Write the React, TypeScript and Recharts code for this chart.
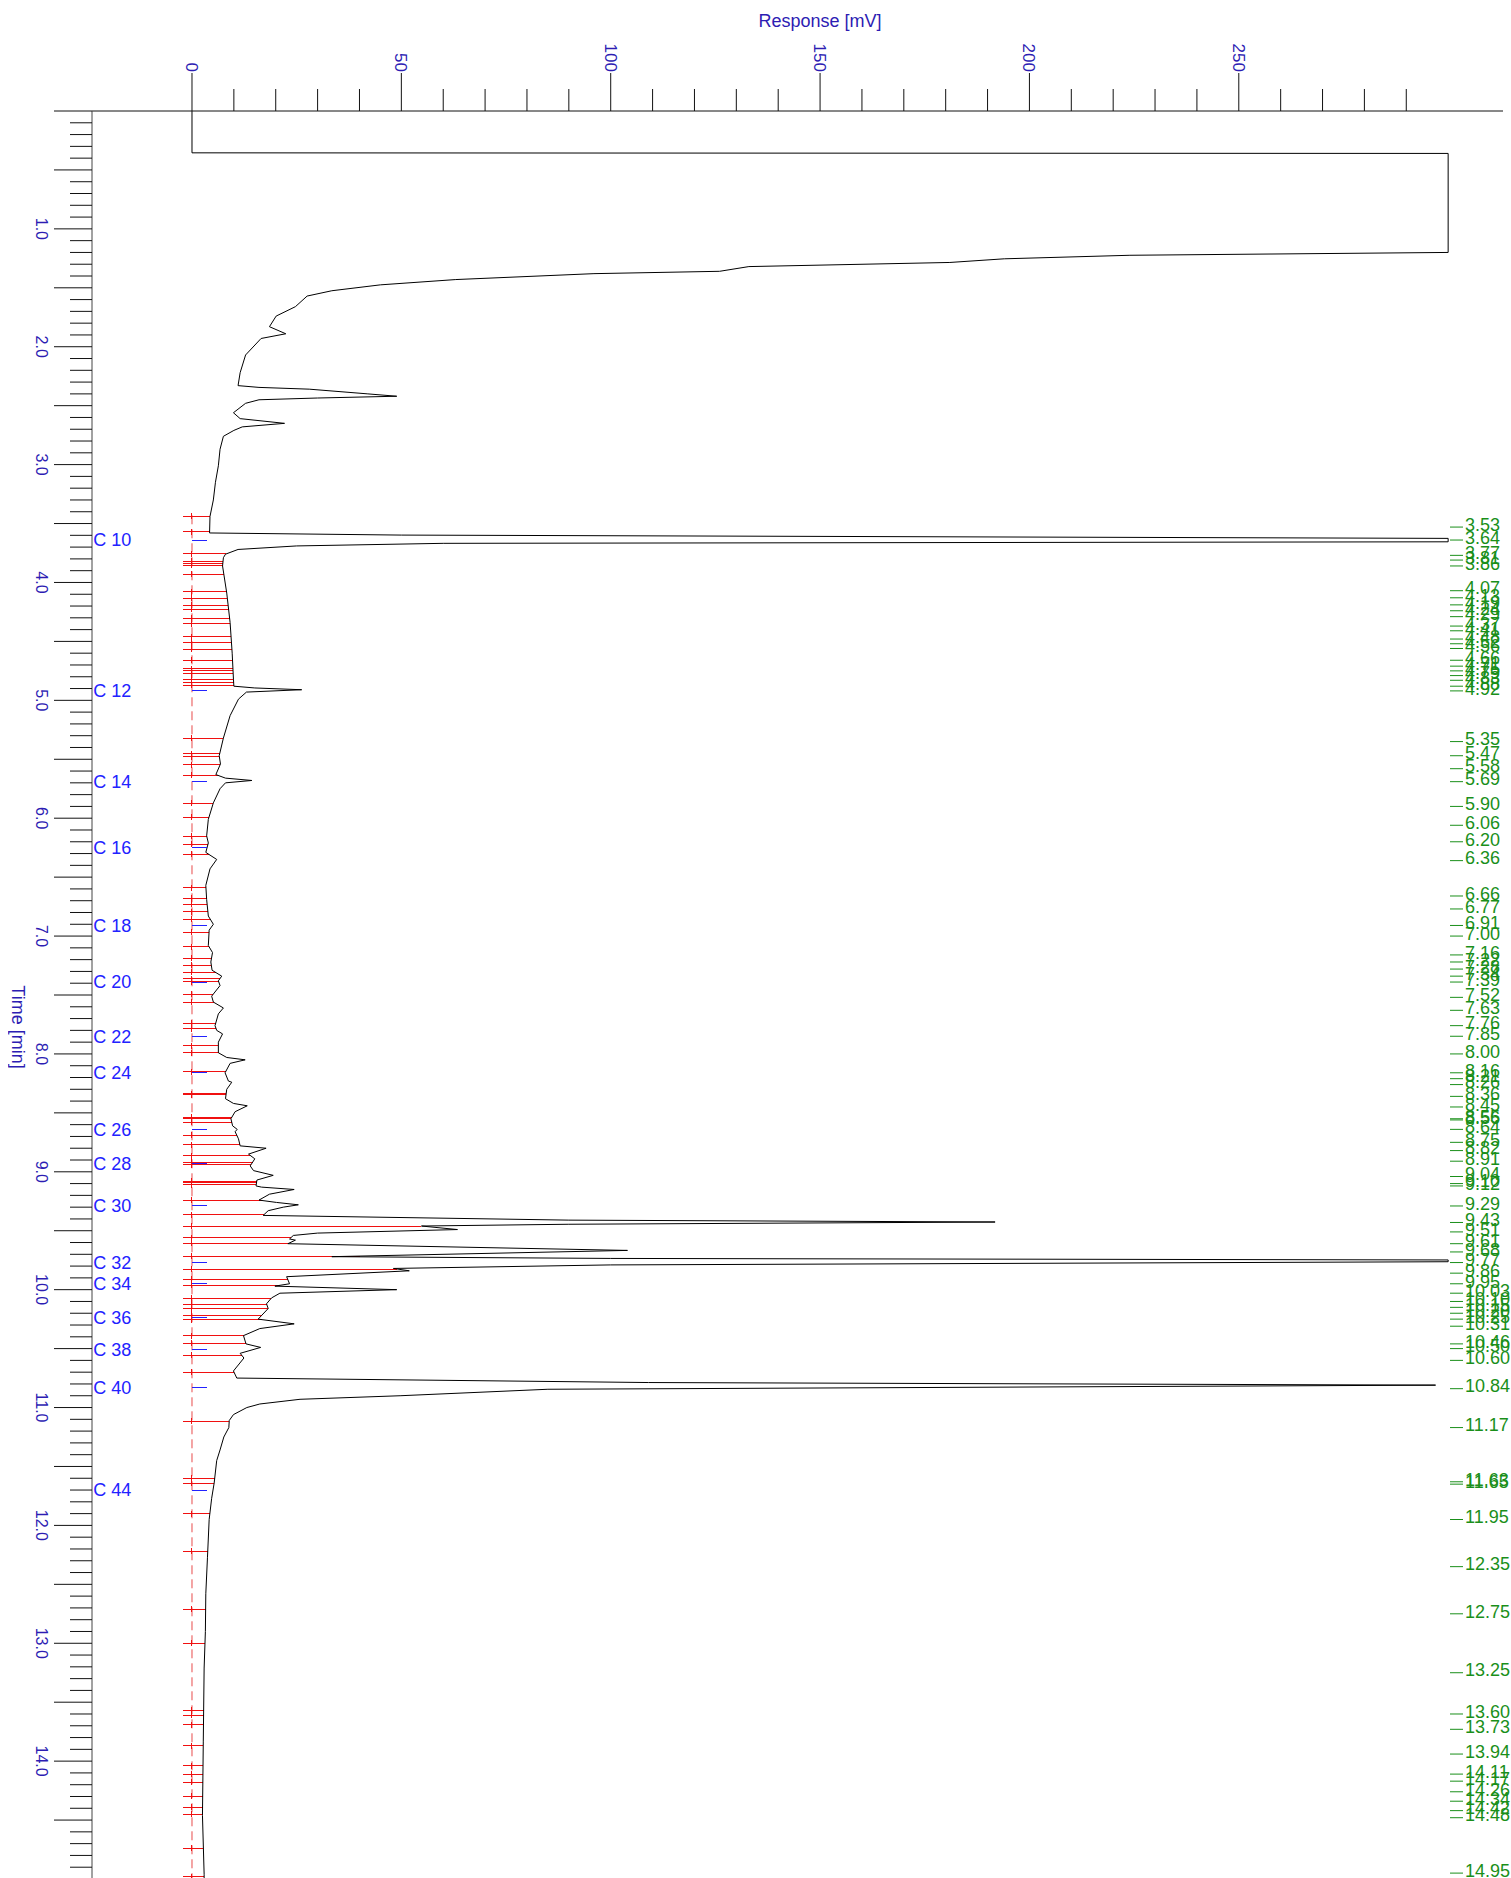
import React from "react";
import {
  ComposedChart,
  Line,
  XAxis,
  YAxis,
  ReferenceLine,
  ReferenceDot,
} from "recharts";

// detector trace, time [min] / response [mV]
const TRACE_T = [
  0, 0.355, 0.36, 1.2, 1.224, 1.254, 1.285, 1.32, 1.36, 1.38,
  1.43, 1.475, 1.525, 1.57, 1.66, 1.74, 1.83, 1.89, 1.93, 2.07,
  2.22, 2.33, 2.345, 2.36, 2.4, 2.42, 2.435, 2.45, 2.48, 2.56,
  2.61, 2.65, 2.68, 2.71, 2.76, 2.87, 3.01, 3.15, 3.3, 3.44,
  3.58, 3.598, 3.626, 3.655, 3.668, 3.69, 3.72, 3.76, 3.79, 3.86,
  4.09, 4.34, 4.6, 4.82, 4.88, 4.895, 4.91, 4.93, 4.99, 5.13,
  5.32, 5.47, 5.54, 5.63, 5.66, 5.68, 5.7, 5.75, 5.87, 6.01,
  6.15, 6.21, 6.29, 6.35, 6.43, 6.57, 6.69, 6.83, 6.9, 6.95,
  7.08, 7.14, 7.22, 7.29, 7.34, 7.38, 7.42, 7.51, 7.56, 7.61,
  7.66, 7.76, 7.8, 7.83, 7.9, 7.99, 8.03, 8.05, 8.08, 8.16,
  8.23, 8.24, 8.3, 8.38, 8.42, 8.44, 8.49, 8.55, 8.61, 8.64,
  8.66, 8.72, 8.78, 8.8, 8.85, 8.89, 8.95, 8.99, 9.03, 9.07,
  9.12, 9.13, 9.15, 9.19, 9.24, 9.26, 9.28, 9.3, 9.33, 9.37,
  9.41, 9.426, 9.445, 9.46, 9.49, 9.52, 9.54, 9.57, 9.58, 9.61,
  9.667, 9.72, 9.735, 9.748, 9.763, 9.79, 9.82, 9.84, 9.89, 9.95,
  9.97, 10.0, 10.03, 10.07, 10.12, 10.16, 10.22, 10.25, 10.29, 10.33,
  10.39, 10.46, 10.49, 10.54, 10.58, 10.69, 10.75, 10.788, 10.81, 10.845,
  10.9, 10.93, 10.97, 11.0, 11.06, 11.11, 11.17, 11.25, 11.36, 11.45,
  11.64, 11.77, 11.95, 12.27, 12.58, 12.9, 13.21, 13.83, 14.46, 14.96,
  15,
];
const TRACE_MV = [
  0, 0, 300, 300, 224, 194, 181, 133, 126, 96,
  63, 45, 33.4, 27.5, 24.7, 20.1, 18.5, 22.4, 16.5, 12.8,
  11.5, 11.0, 16, 28, 42, 48.9, 30, 16, 12.8, 9.9,
  11.5, 22.1, 12, 10, 7.5, 6.7, 6.3, 5.6, 5.1, 4.3,
  4.2, 50, 300, 300, 60, 25, 11, 8, 7.5, 7.3,
  8.3, 9.1, 9.6, 9.9, 10.0, 15, 26.2, 13, 11.1, 9.1,
  7.5, 6.5, 6.8, 5.7, 8, 14.3, 8, 6.7, 5.1, 3.9,
  3.5, 3.9, 3.3, 5.9, 4.3, 3.3, 3.5, 3.9, 5.1, 4.1,
  3.9, 4.9, 4.5, 4.8, 7.1, 6.3, 6.7, 4.7, 5.1, 7.5,
  6.3, 5.5, 5.9, 7.3, 6.3, 6.3, 8.3, 12.7, 9.1, 7.9,
  8.7, 9.5, 8.3, 8.0, 9.9, 13.2, 10.3, 9.3, 9.7, 10.8,
  10.3, 11.1, 11.5, 17.7, 13.5, 15.0, 13.9, 14.7, 19.4, 15.5,
  15.3, 16.6, 24.4, 18.5, 16.0, 20.2, 25.4, 21.8, 18.2, 17.0,
  90, 191.8, 90, 54.8, 63.4, 30, 24.2, 23.3, 24.7, 22.9,
  104, 33.4, 100, 300, 300, 100, 48.1, 51.9, 22.6, 23.3,
  19.8, 48.9, 21.0, 19.0, 17.8, 18.2, 16.6, 15.8, 24.4, 16.2,
  12.3, 12.9, 16.4, 11.5, 12.4, 9.9, 10.7, 109, 297, 85,
  49.7, 25.8, 16.2, 13.1, 9.9, 8.9, 8.8, 7.6, 6.7, 5.9,
  5.3, 4.7, 4.1, 3.7, 3.3, 3.2, 2.9, 2.7, 2.5, 2.9,
  2.9,
];

// integration boundaries (red)
const BOUNDARY_T = [
  3.438, 3.571, 3.757, 3.819, 3.842, 3.856, 3.932, 4.079, 4.136, 4.192,
  4.229, 4.305, 4.35, 4.46, 4.511, 4.568, 4.658, 4.731, 4.751, 4.771,
  4.822, 4.85, 4.873, 5.322, 5.452, 5.48, 5.548, 5.636, 5.873, 5.994,
  6.155, 6.22, 6.305, 6.588, 6.681, 6.729, 6.794, 6.856, 6.969, 7.09,
  7.189, 7.246, 7.308, 7.364, 7.387, 7.492, 7.562, 7.74, 7.788, 7.929,
  7.992, 8.15, 8.339, 8.347, 8.537, 8.551, 8.579, 8.692, 8.771, 8.862,
  8.918, 8.941, 9.082, 9.093, 9.11, 9.243, 9.364, 9.46, 9.559, 9.605,
  9.715, 9.825, 9.913, 9.963, 10.071, 10.124, 10.161, 10.218, 10.254, 10.393,
  10.455, 10.557, 10.701, 11.116, 11.602, 11.642, 11.9, 12.22, 12.71, 13.0,
  13.57, 13.61, 13.69, 13.87, 14.04, 14.11, 14.18, 14.3, 14.39, 14.45,
  14.74, 14.98,
];

// retention times (green)
const PEAK_RT = [
  3.53, 3.64, 3.77, 3.81, 3.86, 4.07, 4.13, 4.19, 4.24, 4.29,
  4.37, 4.41, 4.48, 4.52, 4.56, 4.66, 4.71, 4.75, 4.79, 4.83,
  4.88, 4.92, 5.35, 5.47, 5.58, 5.69, 5.9, 6.06, 6.2, 6.36,
  6.66, 6.77, 6.91, 7.0, 7.16, 7.22, 7.28, 7.34, 7.39, 7.52,
  7.63, 7.76, 7.85, 8.0, 8.16, 8.21, 8.26, 8.36, 8.45, 8.55,
  8.56, 8.64, 8.75, 8.82, 8.91, 9.04, 9.1, 9.12, 9.29, 9.43,
  9.51, 9.61, 9.68, 9.77, 9.86, 9.95, 10.03, 10.1, 10.15, 10.2,
  10.25, 10.31, 10.46, 10.5, 10.6, 10.84, 11.17, 11.63, 11.65, 11.95,
  12.35, 12.75, 13.25, 13.6, 13.73, 13.94, 14.11, 14.17, 14.26, 14.34,
  14.42, 14.48, 14.95,
];

// n-alkane markers
const CARBON_NAMES = [
  "C 10", "C 12", "C 14", "C 16", "C 18", "C 20", "C 22", "C 24", "C 26",
  "C 28", "C 30", "C 32", "C 34", "C 36", "C 38", "C 40", "C 44",
];
const CARBON_T = [
  3.64, 4.92, 5.69, 6.25, 6.91, 7.39, 7.85, 8.16, 8.64,
  8.93, 9.29, 9.77, 9.95, 10.24, 10.51, 10.83, 11.7,
];

const RESP_TICKS = Array.from({ length: 30 }, (_, i) => i * 10);
const TIME_TICKS = Array.from({ length: 151 }, (_, i) => i / 10);

const RESP_DOMAIN = [-23.88, 313.1];
const AXIS_INK = "#2d1db3";
const C_BLUE = "#2222ff";
const GREEN = "#1a8f1a";
const RED = "#f01010";

const data = TRACE_T.map((t, i) => ({ t, mv: TRACE_MV[i] }));

// where a boundary marker meets the signal
function signalAt(t: number) {
  for (let i = 1; i < TRACE_T.length; i++) {
    if (TRACE_T[i] >= t) {
      const f = (t - TRACE_T[i - 1]) / (TRACE_T[i] - TRACE_T[i - 1]);
      return TRACE_MV[i - 1] + f * (TRACE_MV[i] - TRACE_MV[i - 1]);
    }
  }
  return TRACE_MV[TRACE_MV.length - 1];
}

const RespTick = (props: any) => {
  const { x, y, payload } = props;
  const major = payload.value % 50 === 0;
  const len = major ? 38 : 22;
  const ly = y - len - 1;
  return (
    <g>
      <line x1={x} y1={y} x2={x} y2={y - len} stroke="#111" />
      {major && (
        <text
          x={x}
          y={ly}
          transform={`rotate(90 ${x} ${ly})`}
          textAnchor="end"
          dy="0.35em"
          fontSize={17}
          fill={AXIS_INK}
        >
          {payload.value}
        </text>
      )}
    </g>
  );
};

const TimeTick = (props: any) => {
  const { x, y, payload } = props;
  const tenth = Math.round(payload.value * 10);
  const major = tenth % 5 === 0;
  const labelled = tenth % 10 === 0 && tenth > 0 && tenth < 150;
  const len = major ? 38 : 22;
  const lx = x - 50;
  return (
    <g>
      <line x1={x - len} y1={y} x2={x} y2={y} stroke="#111" />
      {labelled && (
        <text
          x={lx}
          y={y}
          transform={`rotate(90 ${lx} ${y})`}
          textAnchor="middle"
          dy="0.35em"
          fontSize={16}
          fill={AXIS_INK}
        >
          {(tenth / 10).toFixed(1)}
        </text>
      )}
    </g>
  );
};

// retention-time labels hang off a hidden right axis
const PeakTick = (props: any) => {
  const { x, y, payload } = props;
  return (
    <g>
      <line x1={x - 53} x2={x - 40} y1={y} y2={y} stroke={GREEN} />
      <text x={x - 38} y={y - 2} dy="0.32em" fontSize={18} fill={GREEN}>
        {payload.value.toFixed(2)}
      </text>
    </g>
  );
};

const RespTitle = (props: any) => {
  const vb = props.viewBox;
  const cx = vb.x + ((150 - RESP_DOMAIN[0]) / (RESP_DOMAIN[1] - RESP_DOMAIN[0])) * vb.width;
  return (
    <text x={cx} y={vb.y + 15.5} textAnchor="middle" fontSize={18} fill={AXIS_INK}>
      Response [mV]
    </text>
  );
};

const TimeTitle = (props: any) => {
  const vb = props.viewBox;
  const x = vb.x + 10.5;
  const y = vb.y + vb.height / 2 + 32;
  return (
    <text
      x={x}
      y={y}
      transform={`rotate(90 ${x} ${y})`}
      textAnchor="middle"
      dy="0.35em"
      fontSize={18}
      fill={AXIS_INK}
    >
      Time [min]
    </text>
  );
};

export default function App() {
  return (
    <div
      style={{
        position: "absolute",
        left: 8,
        top: 8,
        width: 1503,
        height: 1870,
        overflow: "hidden",
        fontFamily: "'Liberation Sans', Arial, sans-serif",
        background: "#fff",
      }}
    >
      <style>{`.recharts-surface { overflow: visible; }`}</style>
      <ComposedChart
        layout="vertical"
        width={1503}
        height={1871}
        data={data}
        margin={{ top: 3, right: 0, bottom: 0, left: 0 }}
      >
        <XAxis
          type="number"
          orientation="top"
          domain={RESP_DOMAIN}
          allowDataOverflow
          ticks={RESP_TICKS}
          interval={0}
          height={100}
          tickSize={0}
          tickMargin={0}
          tickLine={false}
          axisLine={{ stroke: "#111" }}
          tick={<RespTick />}
          label={{ content: <RespTitle /> }}
        />
        <YAxis
          type="number"
          dataKey="t"
          domain={[0, 15]}
          allowDataOverflow
          ticks={TIME_TICKS}
          interval={0}
          width={84}
          tickSize={0}
          tickMargin={0}
          tickLine={false}
          axisLine={{ stroke: "#444" }}
          tick={<TimeTick />}
          label={{ content: <TimeTitle /> }}
        />
        <YAxis
          yAxisId="rt"
          orientation="right"
          type="number"
          dataKey="t"
          domain={[0, 15]}
          allowDataOverflow
          ticks={PEAK_RT}
          interval={0}
          width={8}
          tickSize={0}
          tickMargin={0}
          tickLine={false}
          axisLine={false}
          tick={<PeakTick />}
        />

        <ReferenceLine
          segment={[
            { x: 0, y: 3.43 },
            { x: 0, y: 15 },
          ]}
          stroke="#e84a4a"
          strokeDasharray="9 5"
          ifOverflow="visible"
        />
        {BOUNDARY_T.map((t) => (
          <ReferenceLine
            key={"b" + t}
            segment={[
              { x: -2.2, y: t },
              { x: signalAt(t), y: t },
            ]}
            stroke={RED}
            strokeWidth={1}
            shapeRendering="crispEdges"
            ifOverflow="visible"
          />
        ))}
        {BOUNDARY_T.map((t) => (
          <ReferenceDot
            key={"p" + t}
            x={0}
            y={t}
            r={0}
            ifOverflow="visible"
            shape={(p: any) => (
              <line
                x1={p.cx}
                x2={p.cx}
                y1={p.cy - 3}
                y2={p.cy + 3}
                stroke={RED}
                shapeRendering="crispEdges"
              />
            )}
          />
        ))}
        {CARBON_T.map((t, i) => (
          <ReferenceDot
            key={"cl" + i}
            x={-23.6}
            y={t}
            r={0}
            ifOverflow="visible"
            shape={(p: any) => (
              <text x={p.cx} y={p.cy} dy="0.35em" fontSize={18} fill={C_BLUE}>
                {CARBON_NAMES[i]}
              </text>
            )}
          />
        ))}
        {CARBON_T.map((t, i) => (
          <ReferenceDot
            key={"ct" + i}
            x={0}
            y={t}
            r={0}
            ifOverflow="visible"
            shape={(p: any) => (
              <line
                x1={p.cx}
                x2={p.cx + 15}
                y1={p.cy}
                y2={p.cy}
                stroke={C_BLUE}
                shapeRendering="crispEdges"
              />
            )}
          />
        ))}

        <Line
          type="linear"
          dataKey="mv"
          stroke="#000"
          strokeWidth={1}
          dot={false}
          activeDot={false}
          isAnimationActive={false}
        />
      </ComposedChart>
    </div>
  );
}
